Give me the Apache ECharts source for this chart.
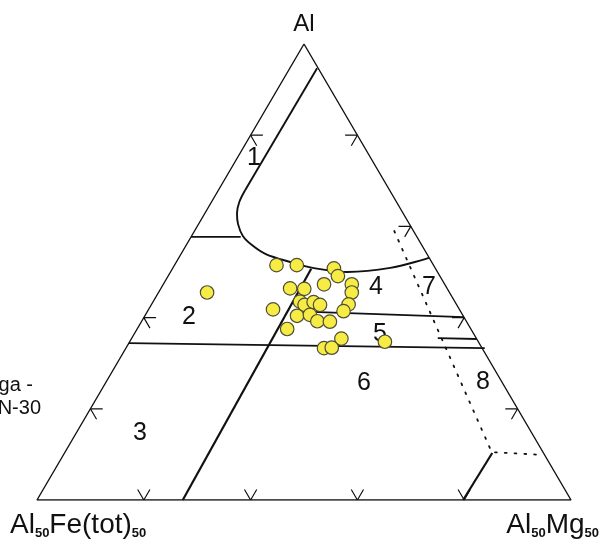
<!DOCTYPE html>
<html><head><meta charset="utf-8">
<script src="https://cdn.jsdelivr.net/npm/echarts/dist/echarts.min.js"></script>
<style>html,body{margin:0;padding:0;background:#fff}#c{width:602px;height:547px}</style>
</head><body><div id="c"></div>
<script>
// All compositions given as [Al, Mg] in normalised % ; Fe(tot) = 100 - Al - Mg
const samples = [
  [45.5, 9.1], [51.5, 19.1], [51.5, 22.9], [50.8, 30.2], [49.1, 31.8],
  [46.4, 24.2], [46.3, 26.9], [47.3, 30.1], [47.3, 35.3], [45.5, 36.2],
  [41.8, 23.3], [43.5, 27.5], [42.8, 28.7], [43.4, 30.1], [42.8, 31.6],
  [42.9, 36.9], [41.4, 36.7], [40.4, 28.5], [40.6, 30.8], [39.2, 32.9],
  [39.1, 35.3], [37.5, 28.1], [35.4, 39.3], [33.3, 37.1], [33.4, 38.5],
  [34.7, 47.8]
];
const triangle = [[100, 0], [0, 0], [0, 100], [100, 0]];
const field1Straight = [[94.7, 5.1], [68.0, 5.0]];
const field1Curve = [[68.0, 5.0], [65.4, 5.2], [62.9, 6.0], [60.5, 7.4], [57.9, 9.6], [55.9, 12.3],
  [53.9, 15.9], [52.2, 21.3], [50.9, 26.2], [50.0, 33.1], [50.9, 40.7], [53.1, 46.9]];
const line12 = [[57.7, 0], [57.7, 9.3]];
const lineFeMg = [[50.7, 26.0], [0, 27.3]];
const line45 = [[41.3, 29.5], [40.1, 59.9]];
const line5short = [[35.5, 57.3], [35.3, 64.7]];
const line236 = [[34.4, 0], [33.3, 67.2]];
const line8 = [[10.3, 80.1], [0, 79.8]];
const dotted78 = [[59.0, 37.4], [10.5, 79.9], [9.9, 89.6]];
const bottomTicks = [20, 40, 60, 80];   // Mg % along base
const leftTicks = [80, 40, 20];         // Al % along left side
const rightTicks = [80, 60, 40, 20];    // Al % along right side
const regionLabels = ['1', '2', '3', '4', '5', '6', '7', '8'];

// ternary [Al, Mg] -> plotting plane
const xy = p => [p[1] + p[0] / 2, p[0]];
const TL = 2.3;
const tickPts = [];
bottomTicks.forEach(m => { tickPts.push([TL, m - TL], [0, m], [TL, m], null); });
leftTicks.forEach(a => { tickPts.push([a, TL], [a, 0], [a - TL, TL], null); });
rightTicks.forEach(a => { tickPts.push([a, 100 - a - TL], [a, 100 - a], [a - TL, 100 - a], null); });
const tickData = tickPts.map(p => p ? xy(p) : ['-', '-']);

const ink = '#111';
function lineSeries(pts, width, extra) {
  return Object.assign({
    type: 'line', data: pts.map(xy), symbol: 'none', silent: true, z: 2,
    lineStyle: { color: ink, width: width }, animation: false
  }, extra || {});
}
const font = '"Liberation Sans", Arial, sans-serif';
function txt(t, x, y, size, align) {
  return { type: 'text', x: x, y: y, silent: true,
    style: { text: t, fontSize: size, fontFamily: font, fill: ink, align: align || 'center', verticalAlign: 'middle' } };
}
const labelPos = [[254, 158], [189, 317], [140, 433], [376, 287], [380, 334], [364, 383], [429, 287], [483, 382]];
const richStyle = {
  a: { fontSize: 28, fontFamily: font, lineHeight: 30, fill: ink },
  s: { fontSize: 13, fontFamily: font, fontWeight: 'bold', lineHeight: 12, verticalAlign: 'bottom', fill: ink }
};

const chart = echarts.init(document.getElementById('c'), null, { renderer: 'canvas' });
chart.setOption({
  animation: false,
  backgroundColor: '#fff',
  grid: { left: 37, right: 31, top: 44, bottom: 47 },
  xAxis: { type: 'value', min: 0, max: 100, show: false },
  yAxis: { type: 'value', min: 0, max: 100, show: false },
  series: [
    lineSeries(triangle, 1.4),
    lineSeries(field1Straight, 1.9),
    lineSeries(field1Curve, 1.9, { smooth: 0.35 }),
    lineSeries(line12, 1.9),
    lineSeries(lineFeMg, 2.2),
    lineSeries(line45, 1.9),
    lineSeries(line5short, 1.9),
    lineSeries(line236, 1.9),
    lineSeries(line8, 2.2),
    lineSeries(dotted78, 1.8, { lineStyle: { color: ink, width: 1.8, type: [1.8, 8], cap: 'round' } }),
    { type: 'line', data: tickData, symbol: 'none', silent: true, connectNulls: false,
      lineStyle: { color: ink, width: 1.2 }, z: 2 },
    { type: 'scatter', data: samples.map(xy), symbol: 'circle', symbolSize: 13.5, z: 5, silent: true,
      itemStyle: { color: '#f6ec45', borderColor: '#4f4d36', borderWidth: 1.2, opacity: 1 } }
  ],
  graphic: [
    txt('Al', 304, 24, 24),
    ...regionLabels.map((t, i) => txt(t, labelPos[i][0], labelPos[i][1], 25)),
    txt('ga -', 33, 385, 20, 'right'),
    txt('N-30', 41, 408, 20, 'right'),
    { type: 'text', x: 10, y: 510, silent: true,
      style: { text: '{a|Al}{s|50}{a|Fe(tot)}{s|50}', rich: richStyle, align: 'left', verticalAlign: 'top' } },
    { type: 'text', x: 599, y: 510, silent: true,
      style: { text: '{a|Al}{s|50}{a|Mg}{s|50}', rich: richStyle, align: 'right', verticalAlign: 'top' } }
  ]
});
</script></body></html>
